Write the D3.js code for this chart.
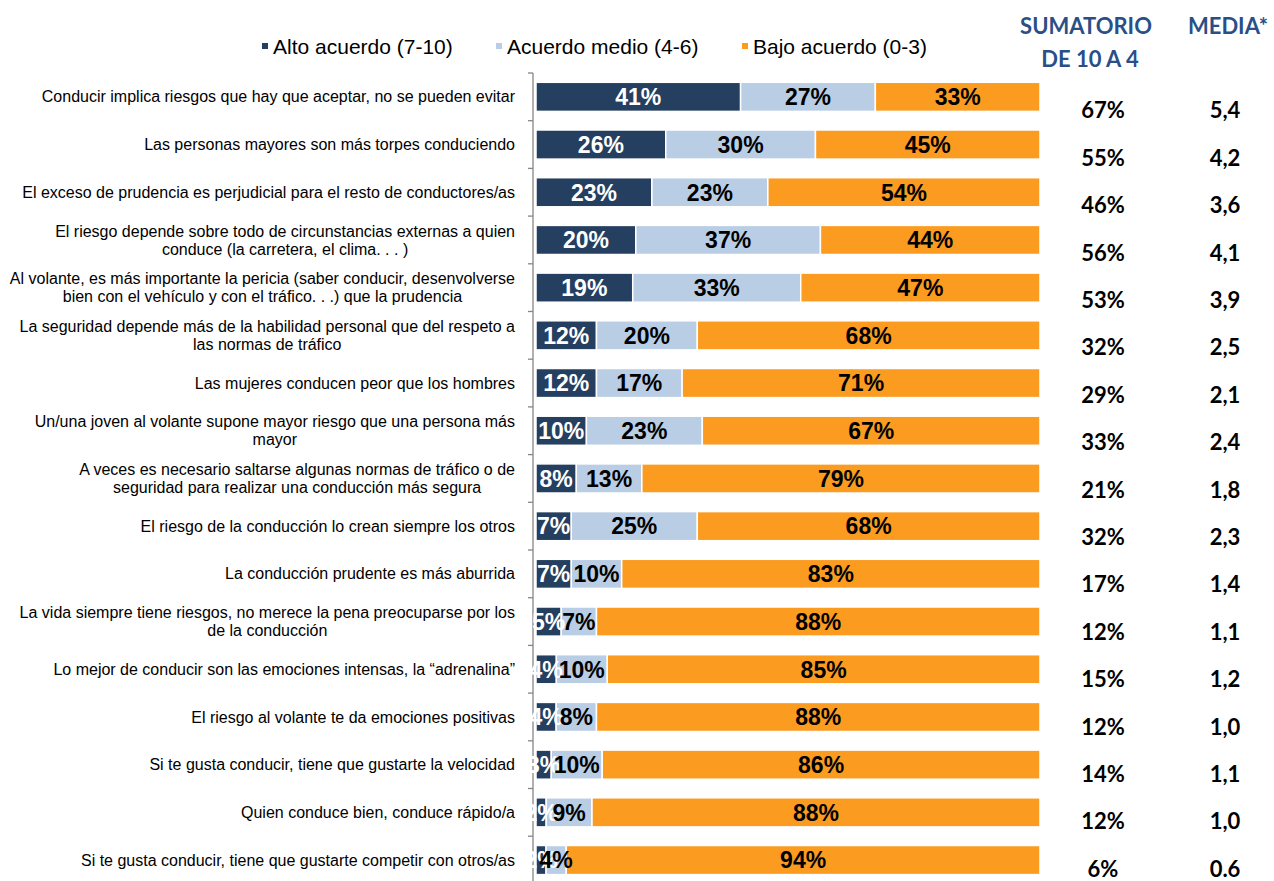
<!DOCTYPE html>
<html lang="es">
<head>
<meta charset="utf-8">
<title>Acuerdo con afirmaciones sobre conducción</title>
<script src="https://cdn.jsdelivr.net/npm/d3@7"></script>
<style>
  body { margin: 0; background: #fff; }
  svg text { font-family: "Liberation Sans", Arial, sans-serif; }
  .num { font-family: Lato, "Open Sans", sans-serif; font-weight: bold; }
</style>
</head>
<body>
<script>
// categories, top to bottom
var categories = [
  "Conducir implica riesgos que hay que aceptar, no se pueden evitar",
  "Las personas mayores son más torpes conduciendo",
  "El exceso de prudencia es perjudicial para el resto de conductores/as",
  "El riesgo depende sobre todo de circunstancias externas a quien\nconduce (la carretera, el clima. . . )",
  "Al volante, es más importante la pericia (saber conducir, desenvolverse\nbien con el vehículo y con el tráfico. . .) que la prudencia",
  "La seguridad depende más de la habilidad personal que del respeto a\nlas normas de tráfico",
  "Las mujeres conducen peor que los hombres",
  "Un/una joven al volante supone mayor riesgo que una persona más\nmayor",
  "A veces es necesario saltarse algunas normas de tráfico o de\nseguridad para realizar una conducción más segura",
  "El riesgo de la conducción lo crean siempre los otros",
  "La conducción prudente es más aburrida",
  "La vida siempre tiene riesgos, no merece la pena preocuparse por los\nde la conducción",
  "Lo mejor de conducir son las emociones intensas, la “adrenalina”",
  "El riesgo al volante te da emociones positivas",
  "Si te gusta conducir, tiene que gustarte la velocidad",
  "Quien conduce bien, conduce rápido/a",
  "Si te gusta conducir, tiene que gustarte competir con otros/as"
];

var alto  = [41, 26, 23, 20, 19, 12, 12, 10, 8, 7, 7, 5, 4, 4, 3, 2, 2];
var medio = [27, 30, 23, 37, 33, 20, 17, 23, 13, 25, 10, 7, 10, 8, 10, 9, 4];
var bajo  = [33, 45, 54, 44, 47, 68, 71, 67, 79, 68, 83, 88, 85, 88, 86, 88, 94];

var sumatorio = ["67%", "55%", "46%", "56%", "53%", "32%", "29%", "33%", "21%", "32%", "17%", "12%", "15%", "12%", "14%", "12%", "6%"];
var media = ["5,4", "4,2", "3,6", "4,1", "3,9", "2,5", "2,1", "2,4", "1,8", "2,3", "1,4", "1,1", "1,2", "1,0", "1,1", "1,0", "0.6"];

var seriesKeys = ["alto", "medio", "bajo"];
var seriesNames = ["Alto acuerdo (7-10)", "Acuerdo medio (4-6)", "Bajo acuerdo (0-3)"];

var w = 1274, h = 881;
var colors = { alto: "#253f60", medio: "#b9cde5", bajo: "#fb9b20" };
var labelColors = { alto: "#ffffff", medio: "#000000", bajo: "#000000" };
var headColor = "#2a4f87";

// rows for the stack
var rows = categories.map(function(c, i) {
  return { cat: c, alto: alto[i], medio: medio[i], bajo: bajo[i] };
});

var stack = d3.stack().keys(seriesKeys).offset(d3.stackOffsetExpand);
var stacked = stack(rows);

var x = d3.scaleLinear().domain([0, 1]).range([536, 1040]);
var y = d3.scaleBand()
  .domain(categories)
  .range([73, 73 + 17 * 47.7])
  .paddingInner(0.39)
  .paddingOuter(0.195);

// the two right columns sit a little lower than the bars
var yCol = d3.scaleBand()
  .domain(categories)
  .range([87, 87 + 17 * 47.4]);

var svg = d3.select("body").append("svg")
  .attr("width", w)
  .attr("height", h);

// bars
var layers = svg.selectAll("g.layer")
  .data(stacked)
  .enter()
  .append("g")
  .attr("class", "layer")
  .attr("fill", function(d) { return colors[d.key]; });

layers.selectAll("rect")
  .data(function(d) { return d; })
  .enter()
  .append("rect")
  .attr("x", function(d) { return x(d[0]); })
  .attr("y", function(d) { return y(d.data.cat); })
  .attr("width", function(d) { return x(d[1]) - x(d[0]); })
  .attr("height", y.bandwidth())
  .attr("stroke", "#fff")
  .attr("stroke-width", 1.5);

// axis line and ticks at the band boundaries
var step = y.step();
var yTop = y.range()[0];
svg.append("line")
  .attr("x1", 533).attr("x2", 533)
  .attr("y1", yTop).attr("y2", h)
  .attr("stroke", "#868686").attr("stroke-width", 1.3);

svg.selectAll("line.tick")
  .data(d3.range(categories.length + 1))
  .enter()
  .append("line")
  .attr("class", "tick")
  .attr("x1", 528).attr("x2", 533)
  .attr("y1", function(i) { return yTop + i * step; })
  .attr("y2", function(i) { return yTop + i * step; })
  .attr("stroke", "#868686").attr("stroke-width", 1.3);

// value labels on the segments
stacked.forEach(function(layer) {
  svg.append("g").selectAll("text")
    .data(layer)
    .enter()
    .append("text")
    .attr("x", function(d) { return (x(d[0]) + x(d[1])) / 2; })
    .attr("y", function(d) { return y(d.data.cat) + y.bandwidth() / 2; })
    .attr("dy", "0.36em")
    .attr("text-anchor", "middle")
    .attr("font-size", "23px")
    .attr("font-weight", "bold")
    .attr("fill", labelColors[layer.key])
    .text(function(d) { return d.data[layer.key] + "%"; });
});

// category labels: block right aligned, lines centered inside the block
var labelRight = 515;
categories.forEach(function(c) {
  var lines = c.split("\n");
  var cy = y(c) + y.bandwidth() / 2;
  var t = svg.append("text")
    .attr("font-size", "16px")
    .attr("fill", "#000");
  var spans = lines.map(function(line, k) {
    return t.append("tspan")
      .attr("y", cy + (k - (lines.length - 1) / 2) * 18)
      .attr("dy", "0.35em")
      .text(line);
  });
  var maxW = d3.max(spans, function(s) { return s.node().getComputedTextLength(); });
  spans.forEach(function(s) {
    s.attr("x", labelRight - maxW / 2).attr("text-anchor", "middle");
  });
});

// right hand columns
svg.append("g").selectAll("text")
  .data(sumatorio)
  .enter()
  .append("text")
  .attr("class", "num")
  .attr("x", 1103)
  .attr("y", function(d, i) { return yCol(categories[i]) + yCol.bandwidth() / 2; })
  .attr("dy", "0.35em")
  .attr("text-anchor", "middle")
  .attr("font-size", "22px")
  .attr("fill", "#000")
  .text(function(d) { return d; });

svg.append("g").selectAll("text")
  .data(media)
  .enter()
  .append("text")
  .attr("class", "num")
  .attr("x", 1225)
  .attr("y", function(d, i) { return yCol(categories[i]) + yCol.bandwidth() / 2; })
  .attr("dy", "0.35em")
  .attr("text-anchor", "middle")
  .attr("font-size", "22px")
  .attr("fill", "#000")
  .text(function(d) { return d; });

// column headers
svg.append("text").attr("class", "num")
  .attr("x", 1086).attr("y", 26).attr("dy", "0.35em")
  .attr("text-anchor", "middle").attr("font-size", "22px")
  .attr("fill", headColor).text("SUMATORIO");
svg.append("text").attr("class", "num")
  .attr("x", 1090).attr("y", 59).attr("dy", "0.35em")
  .attr("text-anchor", "middle").attr("font-size", "22px")
  .attr("fill", headColor).text("DE 10 A 4");
svg.append("text").attr("class", "num")
  .attr("x", 1228).attr("y", 26).attr("dy", "0.35em")
  .attr("text-anchor", "middle").attr("font-size", "22px")
  .attr("fill", headColor).text("MEDIA*");

// legend
var legendX = [262, 496, 742];
var legend = svg.selectAll("g.legend")
  .data(seriesKeys)
  .enter()
  .append("g")
  .attr("class", "legend")
  .attr("transform", function(d, i) { return "translate(" + legendX[i] + ",46)"; });

legend.append("rect")
  .attr("x", 0).attr("y", -3)
  .attr("width", 6).attr("height", 6)
  .attr("fill", function(d) { return colors[d]; });

legend.append("text")
  .attr("x", 11)
  .attr("dy", "0.36em")
  .attr("font-size", "21px")
  .attr("fill", "#000")
  .text(function(d, i) { return seriesNames[i]; });
</script>
</body>
</html>
